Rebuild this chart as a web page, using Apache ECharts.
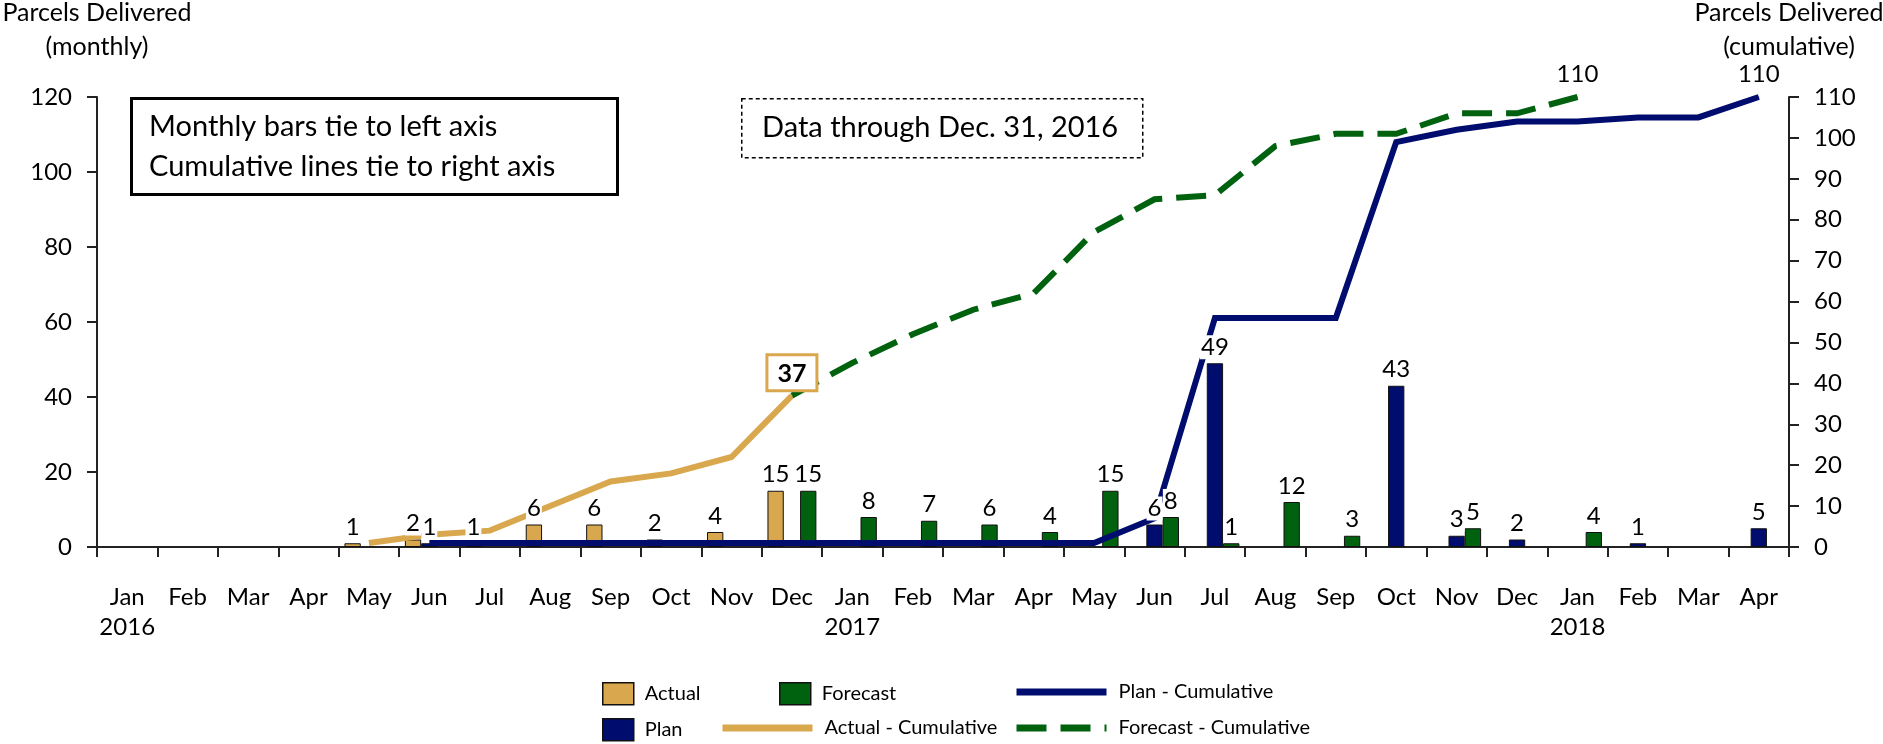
<!DOCTYPE html>
<html>
<head>
<meta charset="utf-8">
<script src="https://cdn.jsdelivr.net/npm/echarts@6/dist/echarts.min.js"></script>
<style>
  html, body { margin: 0; padding: 0; background: #fff; }
  #chart { width: 1883px; height: 744px; }
</style>
</head>
<body>
<div id="chart"></div>
<script>
// months Jan 2016 .. Apr 2018
const months = ['Jan\n2016', 'Feb', 'Mar', 'Apr', 'May', 'Jun', 'Jul', 'Aug', 'Sep', 'Oct', 'Nov', 'Dec',
  'Jan\n2017', 'Feb', 'Mar', 'Apr', 'May', 'Jun', 'Jul', 'Aug', 'Sep', 'Oct', 'Nov', 'Dec',
  'Jan\n2018', 'Feb', 'Mar', 'Apr']

// monthly bars (left axis)
const actual = [null, null, null, null, 1, 2, 1, 6, 6, 2, 4, 15,
  null, null, null, null, null, null, null, null, null, null, null, null,
  null, null, null, null]
const plan = [null, null, null, null, null, 1, null, null, null, null, null, null,
  null, null, null, null, null, 6, 49, null, null, 43, 3, 2,
  null, 1, null, 5]
const forecast = [null, null, null, null, null, null, null, null, null, null, null, 15,
  8, 7, 6, 4, 15, 8, 1, 12, 3, null, 5, null,
  4, null, null, null]

// cumulative lines (right axis)
const actualCum = [null, null, null, null, 1, 3, 4, 10, 16, 18, 22, 37,
  null, null, null, null, null, null, null, null, null, null, null, null,
  null, null, null, null]
const planCum = [null, null, null, null, null, 1, 1, 1, 1, 1, 1, 1,
  1, 1, 1, 1, 1, 7, 56, 56, 56, 99, 102, 104,
  104, 105, 105, 110]
const forecastCum = [null, null, null, null, null, null, null, null, null, null, null, 37,
  45, 52, 58, 62, 77, 85, 86, 98, 101, 101, 106, 106,
  110, null, null, null]

const GOLD = '#D9A84E'
const GREEN = '#00620E'
const NAVY = '#000C6E'
const FONT = 'Lato'

const chart = echarts.init(document.getElementById('chart'))

const makeBar = (name, data, color) => ({
  name: name,
  type: 'bar',
  yAxisIndex: 0,
  stack: name,
  data: data,
  barGap: 0,
  barCategoryGap: '19%',
  itemStyle: { color: color, borderColor: '#111', borderWidth: 1 },
  label: { show: false },
  z: 2
})

// zero-height bar stacked on top of each bar, only to carry the value label
// above the cumulative lines (the labels have a white background like the original)
const makeBarLabels = (name, data) => ({
  name: name + ' label',
  type: 'bar',
  yAxisIndex: 0,
  stack: name,
  data: data.map(v => (v == null ? null : 0)),
  barGap: 0,
  barCategoryGap: '19%',
  itemStyle: { color: 'rgba(0,0,0,0)', borderWidth: 0 },
  label: {
    show: true,
    position: 'top',
    distance: 4,
    formatter: p => String(data[p.dataIndex]),
    fontFamily: FONT,
    fontSize: 24,
    color: '#000',
    backgroundColor: '#fff',
    padding: [0, 1]
  },
  silent: true,
  z: 5
})

const lastIndex = arr => {
  let k = -1
  arr.forEach((v, i) => { if (v != null) k = i })
  return k
}

// only the last point of a cumulative line carries a label
const withEndLabel = (data, color, label) => {
  const idx = lastIndex(data)
  return data.map((v, i) => {
    if (i !== idx) return v
    return { value: v, symbol: 'circle', symbolSize: 1, itemStyle: { color: color }, label: label }
  })
}

const endLabel = {
  show: true,
  position: 'top',
  distance: 10,
  fontFamily: FONT,
  fontSize: 24,
  color: '#000'
}

const makeLine = (name, data, color, dashed, label) => ({
  name: name,
  type: 'line',
  yAxisIndex: 1,
  data: withEndLabel(data, color, label),
  symbol: 'none',
  connectNulls: false,
  lineStyle: {
    color: color,
    width: 6,
    type: dashed ? [30, 14] : 'solid',
    cap: 'butt',
    join: 'miter'
  },
  itemStyle: { color: color },
  label: { show: false },
  z: 3
})

const boxLegend = (name, left, top) => ({
  data: [{ name: name, icon: 'rect' }],
  left: left, top: top, padding: 0,
  itemWidth: 31, itemHeight: 22,
  itemStyle: { borderColor: '#111', borderWidth: 1.5 },
  textStyle: { fontFamily: FONT, fontSize: 20, color: '#000', padding: [0, 0, 0, 6] }
})
const lineLegend = (name, left, top) => ({
  data: [name],
  left: left, top: top, padding: 0,
  itemWidth: 90, itemHeight: 22,
  itemStyle: { opacity: 0 },
  lineStyle: { width: 7 },
  textStyle: { fontFamily: FONT, fontSize: 20, color: '#000', padding: [0, 0, 0, 7] }
})

const axisText = { fontFamily: FONT, fontSize: 24, color: '#000' }

const option = {
  animation: false,
  backgroundColor: '#fff',
  grid: {
    left: 97,
    right: 94,
    top: 97,
    bottom: 197,
    containLabel: false,
    outerBoundsMode: 'none'
  },
  legend: [
    boxLegend('Actual', 602, 682),
    boxLegend('Plan', 602, 718),
    boxLegend('Forecast', 779, 682),
    lineLegend('Actual - Cumulative', 719, 718),
    lineLegend('Plan - Cumulative', 1013, 682),
    lineLegend('Forecast - Cumulative', 1013, 718)
  ],
  xAxis: {
    type: 'category',
    data: months,
    boundaryGap: true,
    axisLine: { lineStyle: { color: '#222', width: 2 } },
    axisTick: { show: true, length: 10, lineStyle: { color: '#222', width: 2 } },
    axisLabel: Object.assign({}, axisText, { interval: 0, margin: 35, lineHeight: 30 }),
    splitLine: { show: false }
  },
  yAxis: [
    {
      type: 'value',
      min: 0,
      max: 120,
      interval: 20,
      position: 'left',
      name: 'Parcels Delivered\n(monthly)',
      nameLocation: 'end',
      nameGap: 33,
      nameTextStyle: { fontFamily: FONT, fontSize: 25, lineHeight: 34, color: '#000', align: 'center' },
      axisLine: { show: true, lineStyle: { color: '#222', width: 2 } },
      axisTick: { show: true, length: 10, lineStyle: { color: '#222', width: 2 } },
      axisLabel: Object.assign({}, axisText, { margin: 25 }),
      splitLine: { show: false }
    },
    {
      type: 'value',
      min: 0,
      max: 110,
      interval: 10,
      position: 'right',
      name: 'Parcels Delivered\n(cumulative)',
      nameLocation: 'end',
      nameGap: 33,
      nameTextStyle: { fontFamily: FONT, fontSize: 25, lineHeight: 34, color: '#000', align: 'center' },
      axisLine: { show: true, lineStyle: { color: '#222', width: 2 } },
      axisTick: { show: true, length: 10, lineStyle: { color: '#222', width: 2 } },
      axisLabel: Object.assign({}, axisText, { margin: 25 }),
      splitLine: { show: false }
    }
  ],
  graphic: [
    {
      type: 'rect',
      left: 130, top: 97,
      shape: { width: 486, height: 96 },
      style: { fill: '#fff', stroke: '#000', lineWidth: 3 },
      z: 10
    },
    {
      type: 'text',
      left: 149, top: 107,
      style: {
        text: 'Monthly bars tie to left axis\nCumulative lines tie to right axis',
        fontFamily: FONT, fontSize: 29, lineHeight: 40, fill: '#000'
      },
      z: 11
    },
    {
      type: 'rect',
      left: 741, top: 98,
      shape: { width: 401, height: 59 },
      style: { fill: '#fff', stroke: '#000', lineWidth: 1.5, lineDash: [4, 3] },
      z: 10
    },
    {
      type: 'text',
      left: 762, top: 110,
      style: {
        text: 'Data through Dec. 31, 2016',
        fontFamily: FONT, fontSize: 29, lineHeight: 36, fill: '#000'
      },
      z: 11
    }
  ],
  series: [
    makeBar('Actual', actual, GOLD),
    makeBar('Plan', plan, NAVY),
    makeBar('Forecast', forecast, GREEN),
    makeBarLabels('Actual', actual),
    makeBarLabels('Plan', plan),
    makeBarLabels('Forecast', forecast),
    makeLine('Actual - Cumulative', actualCum, GOLD, false, {
      show: true, position: 'top', distance: 6,
      fontFamily: FONT, fontSize: 25, fontWeight: 'bold', color: '#000',
      backgroundColor: '#fff', borderColor: GOLD, borderWidth: 3, padding: [5, 9, 3, 9]
    }),
    makeLine('Plan - Cumulative', planCum, NAVY, false, endLabel),
    makeLine('Forecast - Cumulative', forecastCum, GREEN, true, endLabel)
  ]
}

chart.setOption(option)
window.addEventListener('resize', () => chart.resize())
</script>
</body>
</html>
